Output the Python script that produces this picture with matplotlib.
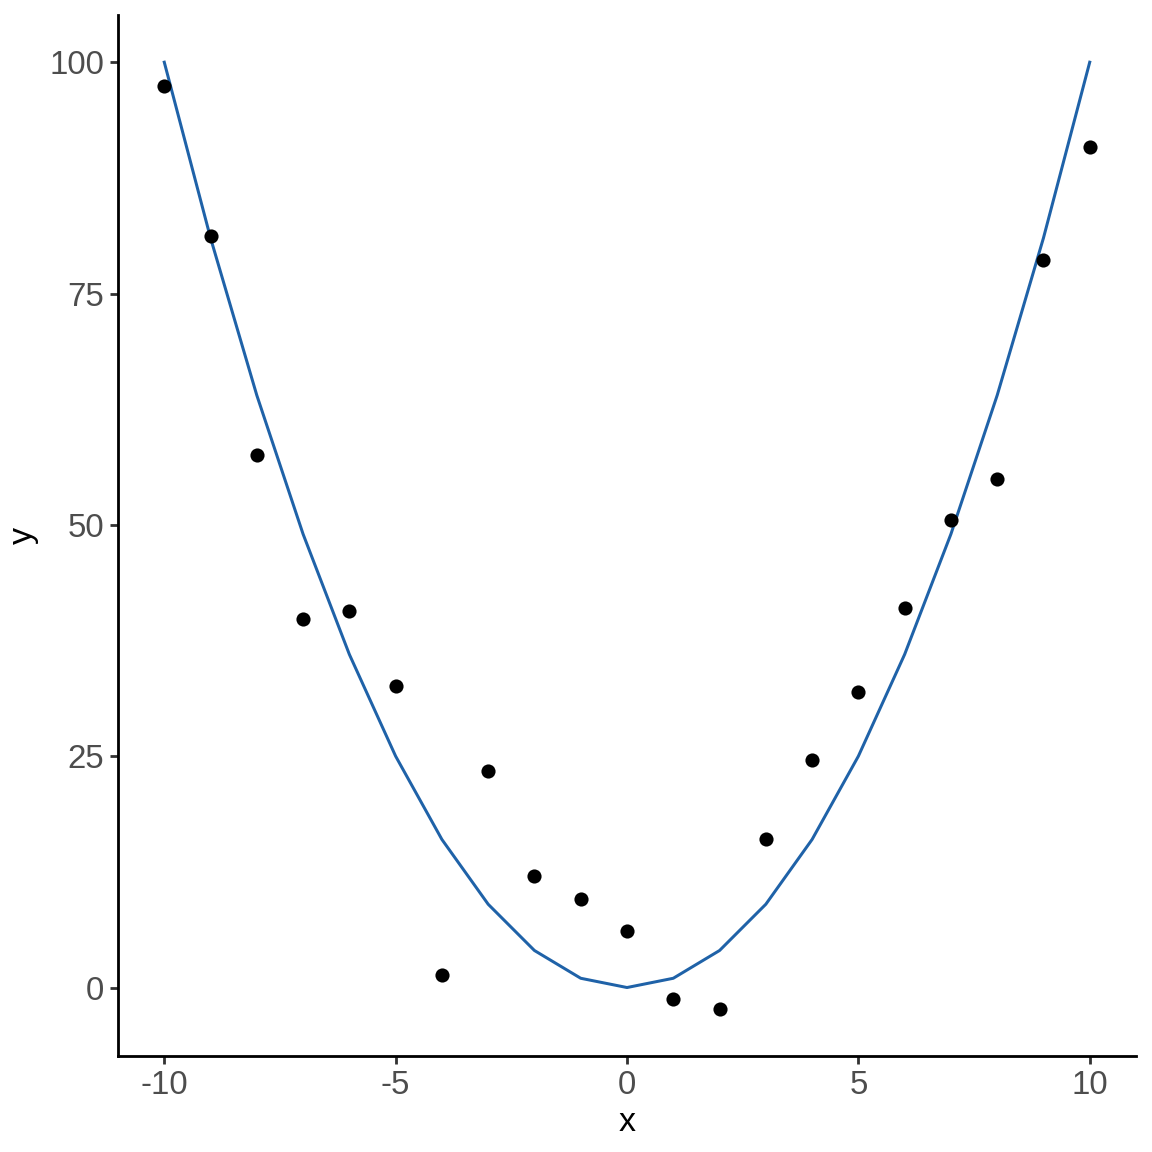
import matplotlib
matplotlib.use('Agg')
import matplotlib.pyplot as plt

# data
x = list(range(-10, 11))
y_fit = [v**2 for v in x]
y_obs = [97.4, 81.2, 57.5, 39.8, 40.7, 32.6, 1.3, 23.4, 12.0, 9.6, 6.1,
         -1.2, -2.3, 16.0, 24.6, 31.9, 41.0, 50.5, 55.0, 78.6, 90.8]
xticks = [-10, -5, 0, 5, 10]
yticks = [0, 25, 50, 75, 100]

plt.rcParams['font.family'] = ['Liberation Sans', 'DejaVu Sans']

fig = plt.figure(figsize=(8, 8), dpi=144)
ax = fig.add_axes([118/1152, 1 - 1056/1152, (1136 - 118)/1152, (1056 - 15)/1152])

ax.plot(x, y_fit, color='#1f62a8', linewidth=1.5, zorder=2)
ax.scatter(x, y_obs, s=50, color='black', zorder=3, linewidths=0)

ax.set_xlim(-11, 11)
ax.set_ylim(-7.4, 105.1)
ax.set_xticks(xticks)
ax.set_yticks(yticks)
ax.set_xticklabels([str(t) for t in xticks])
ax.set_yticklabels([str(t) for t in yticks])

for side in ['top', 'right']:
    ax.spines[side].set_visible(False)
for side in ['left', 'bottom']:
    ax.spines[side].set_linewidth(1.4)
ax.tick_params(axis='both', length=4, width=1.4, color='#333333',
               labelsize=16.5, labelcolor='#4d4d4d', pad=3)

ax.set_xlabel('x', fontsize=17, labelpad=3)
ax.set_ylabel('y', fontsize=17, labelpad=5)

fig.savefig('out.png', dpi=144)
